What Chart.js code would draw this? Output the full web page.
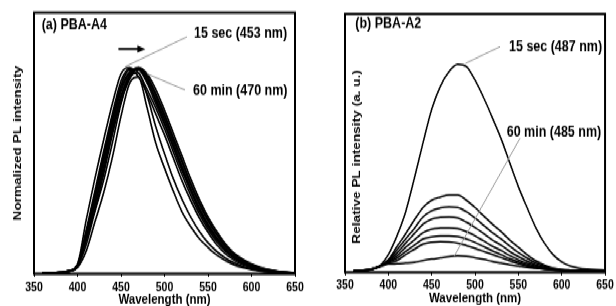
<!DOCTYPE html>
<html><head><meta charset="utf-8">
<script src="https://cdn.jsdelivr.net/npm/chart.js@4.4.1/dist/chart.umd.min.js"></script>
<style>
html,body{margin:0;padding:0;background:#fff;overflow:hidden;width:616px;height:306px}
#wrap{position:absolute;left:0;top:0;width:616px;height:251px;transform:scaleY(1.2191);transform-origin:0 0}
#ca{position:absolute;left:0;top:0}
#cb{position:absolute;left:308px;top:0}
</style></head><body>
<div id="wrap"><canvas id="ca" width="308" height="251"></canvas><canvas id="cb" width="308" height="251"></canvas></div>
<script>
// ---------- data ----------
const wavelengths = [360,370,380,390,400,410,420,430,440,450,460,470,480,490,500,510,520,530,540,550,560,570,580,590,600,610,620,630,640,650];
const xTicks = [350,400,450,500,550,600,650];

// (a) PBA-A4, normalized PL
const a15sec = [0.004,0.004,0.006,0.014,0.047,0.26,0.46,0.645,0.82,0.965,0.995,0.95,0.87,0.77,0.67,0.56,0.45,0.355,0.27,0.20,0.14,0.097,0.066,0.044,0.029,0.019,0.012,0.007,0.004,0.003];
const aB1 = [0.004,0.004,0.006,0.013,0.042,0.21,0.40,0.59,0.77,0.93,0.99,0.97,0.89,0.80,0.70,0.59,0.48,0.38,0.29,0.215,0.155,0.108,0.074,0.05,0.033,0.021,0.013,0.008,0.005,0.003];
const aB2 = [0.004,0.004,0.006,0.013,0.04,0.20,0.38,0.57,0.75,0.91,0.985,0.985,0.92,0.82,0.72,0.61,0.50,0.40,0.305,0.227,0.165,0.115,0.08,0.054,0.036,0.023,0.014,0.009,0.005,0.003];
const aB3 = [0.004,0.004,0.006,0.013,0.04,0.19,0.36,0.54,0.72,0.88,0.97,0.995,0.94,0.845,0.745,0.635,0.52,0.415,0.32,0.24,0.175,0.122,0.085,0.058,0.039,0.025,0.016,0.01,0.006,0.004];
const aB4 = [0.004,0.004,0.006,0.012,0.038,0.18,0.34,0.52,0.70,0.86,0.96,0.99,0.95,0.86,0.76,0.65,0.54,0.43,0.335,0.255,0.187,0.132,0.092,0.063,0.042,0.028,0.018,0.011,0.007,0.004];
const aB6 = [0.004,0.004,0.006,0.013,0.04,0.20,0.37,0.555,0.735,0.895,0.975,0.99,0.93,0.835,0.73,0.62,0.51,0.405,0.312,0.233,0.17,0.118,0.082,0.056,0.037,0.024,0.015,0.009,0.005,0.003];
const aB7 = [0.004,0.004,0.006,0.012,0.039,0.17,0.33,0.50,0.69,0.85,0.955,0.99,0.955,0.87,0.77,0.66,0.55,0.44,0.345,0.262,0.193,0.137,0.095,0.066,0.044,0.029,0.019,0.011,0.006,0.004];
const aI1 = [0.004,0.004,0.005,0.011,0.03,0.11,0.25,0.39,0.56,0.76,0.92,0.95,0.80,0.63,0.51,0.40,0.30,0.228,0.17,0.127,0.091,0.064,0.044,0.03,0.02,0.013,0.008,0.005,0.003,0.002];
const aI2 = [0.004,0.004,0.005,0.012,0.035,0.14,0.30,0.45,0.63,0.82,0.95,0.97,0.86,0.71,0.58,0.46,0.36,0.275,0.205,0.15,0.108,0.076,0.053,0.036,0.024,0.015,0.009,0.005,0.003,0.002];
const a60min = [0.004,0.004,0.006,0.012,0.036,0.16,0.31,0.48,0.67,0.83,0.94,0.995,0.965,0.89,0.79,0.68,0.57,0.46,0.36,0.275,0.205,0.145,0.10,0.07,0.047,0.031,0.02,0.012,0.007,0.004];
const seriesA = [a15sec, aB1, aB2, aB6, aB3, aB7, aB4, aI2, aI1, a60min];

// (b) PBA-A2, relative PL
const b15sec = [0.7,0.8,1.2,3.0,8.5,17.5,29,45,62,78,89,96,99.5,98.5,92,83.5,74,64,52.5,41,31,21.5,14,8.5,5,3,2,1.5,1.2,1.0];
const bL1 = [0.7,0.9,1.5,3,6,12.3,18.5,25,31,34.5,36,37,37,34.5,31,27,23,19.5,15.5,12,8.5,5.5,3.5,2,1.3,1,0.8,0.7,0.6,0.5];
const bL2 = [0.7,0.9,1.5,3,5.5,10.7,16,21,26.5,29.5,30.8,31.3,31,29,26,22.5,19,16,12.5,9.5,6.8,4.5,3,1.8,1.2,0.9,0.8,0.7,0.6,0.5];
const bL3 = [0.7,0.9,1.4,2.9,5.2,9.2,14,18.5,23,25.5,26.3,26.5,26,24,21.5,18.5,15.5,13,10,7.5,5.3,3.6,2.4,1.5,1.1,0.9,0.8,0.7,0.6,0.5];
const bL4 = [0.7,0.9,1.4,2.9,5,7.9,12,15.5,19,20.7,21.2,21.3,21,19.5,17.5,15,12.5,10.5,8,6,4.3,3,2,1.3,1,0.8,0.7,0.6,0.5,0.5];
const bL5 = [0.7,0.9,1.4,2.8,4.8,6.8,10,13,16,17,17.4,17.4,17.1,16,14.3,12.3,10.3,8.5,6.5,5,3.6,2.5,1.7,1.2,0.9,0.8,0.7,0.6,0.5,0.5];
const bL6 = [0.7,0.9,1.4,2.8,4.5,5.6,8.5,11,13.5,14.4,14.6,14.5,14,12.8,11.5,10,8.5,7,5.5,4.2,3,2.1,1.5,1.1,0.8,0.7,0.6,0.6,0.5,0.5];
const b60min = [0.7,0.9,1.3,2.6,4,4.1,4.4,4.8,5.6,6.3,6.9,7.5,7.9,7.7,7,6.2,5.2,4.4,3.6,3,2.4,2,1.5,1.2,1,0.8,0.7,0.6,0.5,0.5];
const seriesB = [b15sec, bL1, bL2, bL3, bL4, bL5, bL6, b60min];

// annotation texts and the data points they point at
const panelTitles = ['(a) PBA-A4', '(b) PBA-A2'];
const notesAText = ['15 sec (453 nm)', '60 min (470 nm)'];
const notesATarget = [[455, 1.0], [480, 0.965]];
const shiftArrowA = [447, 478, 1.085];
const notesBText = ['15 sec (487 nm)', '60 min (485 nm)'];
const notesBTarget = [[489, 100], [476, 7.75]];

// ---------- drawing ----------
const FONT = '"Liberation Sans", Arial, Helvetica, sans-serif';
Chart.defaults.font.family = FONT;
Chart.defaults.color = '#000';

const panelPlugin = {
  id: 'panel',
  afterDraw(chart, args, o) {
    const ctx = chart.ctx, a = chart.chartArea, xs = chart.scales.x, ys = chart.scales.y;
    ctx.save();
    // frame
    ctx.strokeStyle = '#000'; ctx.lineWidth = 2;
    ctx.strokeRect(a.left, a.top, a.right - a.left, a.bottom - a.top);
    // texts
    ctx.fillStyle = '#000';
    ctx.font = 'bold 12.5px ' + FONT;
    ctx.textBaseline = 'middle'; ctx.textAlign = 'left';
    ctx.fillText(o.title, o.titlePos[0], o.titlePos[1]);
    o.notes.forEach((t, i) => {
      const tg = o.targets[i], lp = o.leaderEnds[i], tp = o.textPos[i];
      ctx.strokeStyle = '#9a9a9a'; ctx.lineWidth = 1;
      ctx.beginPath();
      ctx.moveTo(xs.getPixelForValue(tg[0]), ys.getPixelForValue(tg[1]));
      ctx.lineTo(lp[0], lp[1]);
      ctx.stroke();
      ctx.fillText(t, tp[0], tp[1]);
    });
    if (o.arrow) {
      const x0 = xs.getPixelForValue(o.arrow[0]), x1 = xs.getPixelForValue(o.arrow[1]), y = ys.getPixelForValue(o.arrow[2]);
      ctx.strokeStyle = '#000'; ctx.lineWidth = 1.8;
      ctx.beginPath(); ctx.moveTo(x0, y); ctx.lineTo(x1 - 6, y); ctx.stroke();
      ctx.beginPath(); ctx.moveTo(x1, y); ctx.lineTo(x1 - 8, y - 3); ctx.lineTo(x1 - 8, y + 3); ctx.closePath(); ctx.fill();
    }
    if (o.yLabel) {
      ctx.font = 'bold 11.2px ' + FONT;
      ctx.textAlign = 'center';
      ctx.translate(o.yLabelPos[0], o.yLabelPos[1]);
      ctx.rotate(-Math.PI / 2);
      ctx.fillText(o.yLabel, 0, 0);
    }
    ctx.restore();
  }
};

function makeChart(id, series, cfg) {
  return new Chart(document.getElementById(id), {
    type: 'line',
    data: {
      datasets: series.map((vals, k) => ({
        label: 'curve ' + (k + 1),
        data: wavelengths.map((w, i) => ({ x: w, y: vals[i] })),
        borderColor: '#000', borderWidth: cfg.lineWidth, pointRadius: 0, fill: false,
        cubicInterpolationMode: 'monotone'
      }))
    },
    options: {
      responsive: false, animation: false, devicePixelRatio: 1,
      layout: { padding: { left: 0, top: cfg.top, right: cfg.right, bottom: 0 } },
      plugins: { legend: { display: false }, tooltip: { enabled: false }, panel: cfg.panel },
      scales: {
        x: {
          type: 'linear', min: 350, max: 650, position: 'bottom',
          afterBuildTicks: s => { s.ticks = xTicks.map(v => ({ value: v })); },
          ticks: { color: '#000', font: { size: 10.5, weight: 'bold' }, padding: cfg.tickPad, maxRotation: 0, autoSkip: false },
          grid: { display: true, drawOnChartArea: false, drawTicks: true, tickLength: 2.5, tickColor: '#000', tickWidth: 1 },
          border: { display: false },
          title: { display: true, text: 'Wavelength (nm)', color: '#000', font: { size: 11.5, weight: 'bold' }, padding: { top: 0, bottom: cfg.titlePad } },
          afterFit: s => { s.height = cfg.xHeight; }
        },
        y: {
          type: 'linear', min: cfg.yMin, max: cfg.yMax,
          ticks: { display: false },
          grid: { display: false },
          border: { display: false },
          title: cfg.yTitle,
          afterFit: s => { s.width = cfg.left; }
        }
      }
    },
    plugins: [panelPlugin]
  });
}

makeChart('ca', seriesA, {
  top: 10.4, right: 13, left: 34, xHeight: 26.4, tickPad: 2.6, titlePad: -2.2, lineWidth: 1.6,
  yMin: 0, yMax: 1.26,
  yTitle: { display: true, text: 'Normalized PL intensity', color: '#000', font: { size: 11.2, weight: 'bold' }, padding: { top: 11.3, bottom: 0 } },
  panel: {
    title: panelTitles[0], titlePos: [41.7, 20.5],
    notes: notesAText, targets: notesATarget,
    leaderEnds: [[187, 30.2], [185, 73.8]], textPos: [[194, 27.9], [193, 74.6]],
    arrow: shiftArrowA
  }
});

makeChart('cb', seriesB, {
  top: 11.5, right: 9, left: 37, xHeight: 27.6, tickPad: 2.2, titlePad: -0.7, lineWidth: 1.5,
  yMin: 0, yMax: 123.6,
  yTitle: { display: false },
  panel: {
    title: panelTitles[1], titlePos: [47.3, 19.7],
    notes: notesBText, targets: notesBTarget,
    leaderEnds: [[192, 38.3], [212, 113.4]], textPos: [[201, 38.9], [198.7, 108.2]],
    yLabel: 'Relative PL intensity (a. u.)', yLabelPos: [49, 128.7]
  }
});
</script>
</body></html>
